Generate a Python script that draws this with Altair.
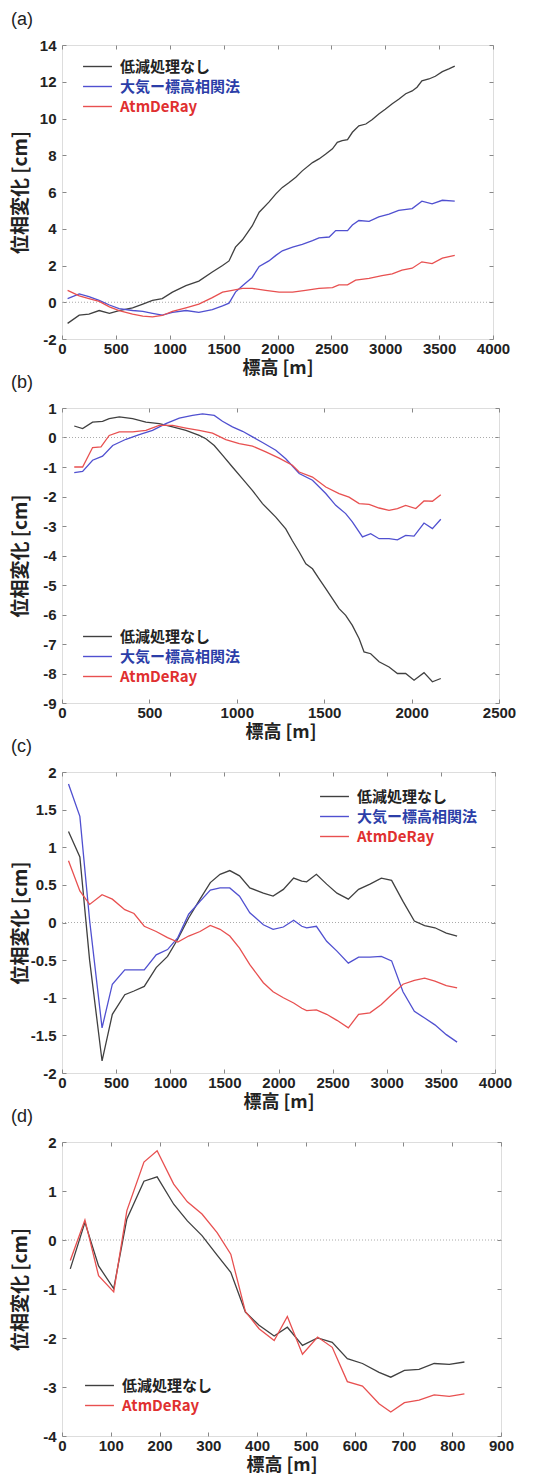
import altair as alt
import pandas as pd

# ---------------- data ----------------
NAMES = ["低減処理なし", "大気ー標高相関法", "AtmDeRay"]
LINE_COLORS = ["#404040", "#5050d0", "#e85050"]
TEXT_COLORS = ["#222222", "#2c3ea8", "#e03030"]

# panel (a)
A_BLACK_X = [52, 160, 250, 345, 440, 530, 655, 750, 840, 930, 1025, 1150, 1270, 1395, 1490, 1550, 1610, 1675, 1765, 1830,
             1920, 1985, 2045, 2105, 2170, 2230, 2325, 2385, 2445, 2510, 2555, 2600, 2650, 2695, 2755, 2820, 2880, 2940, 3000, 3065,
             3125, 3190, 3250, 3295, 3340, 3405, 3465, 3530, 3590, 3645]
A_BLACK_Y = [-1.15, -0.7, -0.65, -0.45, -0.6, -0.45, -0.3, -0.1, 0.1, 0.2, 0.55, 0.9, 1.15, 1.65, 2.0, 2.25, 3.0, 3.4, 4.15, 4.9,
             5.45, 5.9, 6.25, 6.5, 6.8, 7.15, 7.6, 7.8, 8.05, 8.35, 8.7, 8.8, 8.85, 9.25, 9.6, 9.7, 9.95, 10.25, 10.5, 10.8,
             11.05, 11.35, 11.5, 11.7, 12.05, 12.15, 12.3, 12.55, 12.7, 12.85]
A_BLUE_X = [52, 160, 250, 345, 440, 530, 655, 750, 840, 930, 1025, 1150, 1270, 1395, 1490, 1550, 1610, 1675, 1765, 1830,
            1920, 1985, 2045, 2140, 2230, 2325, 2385, 2480, 2540, 2650, 2695, 2755, 2850, 2940, 3035, 3125, 3250, 3340, 3435, 3530,
            3645]
A_BLUE_Y = [0.2, 0.45, 0.3, 0.1, -0.15, -0.35, -0.45, -0.5, -0.6, -0.7, -0.55, -0.45, -0.55, -0.4, -0.2, -0.05, 0.55, 0.9, 1.35, 1.95,
            2.25, 2.55, 2.8, 3.0, 3.15, 3.35, 3.5, 3.55, 3.9, 3.9, 4.2, 4.45, 4.4, 4.65, 4.8, 5.0, 5.1, 5.5, 5.35, 5.55,
            5.5]
A_RED_X = [52, 160, 250, 345, 440, 530, 655, 750, 840, 930, 1025, 1150, 1270, 1395, 1490, 1580, 1675, 1765, 1890, 2015,
           2140, 2260, 2385, 2510, 2570, 2650, 2725, 2850, 2970, 3065, 3155, 3250, 3340, 3435, 3530, 3645]
A_RED_Y = [0.65, 0.35, 0.2, 0.05, -0.25, -0.45, -0.65, -0.75, -0.8, -0.72, -0.5, -0.3, -0.1, 0.25, 0.55, 0.65, 0.75, 0.75, 0.65, 0.55,
           0.55, 0.65, 0.75, 0.8, 0.95, 0.95, 1.2, 1.3, 1.45, 1.55, 1.75, 1.85, 2.2, 2.1, 2.4, 2.55]

# panel (b)
B_BLACK_X = [70, 118, 175, 232, 270, 328, 404, 480, 556, 633, 709, 785, 823, 871, 918, 975, 1033, 1090, 1147, 1223,
             1280, 1318, 1357, 1395, 1433, 1471, 1509, 1547, 1585, 1623, 1661, 1700, 1728, 1766, 1814, 1871, 1919, 1966, 2014, 2071,
             2119, 2167]
B_BLACK_Y = [0.39, 0.3, 0.52, 0.55, 0.64, 0.7, 0.64, 0.52, 0.47, 0.36, 0.24, 0.07, -0.04, -0.27, -0.6, -1.0, -1.4, -1.8, -2.24, -2.7,
             -3.1, -3.5, -3.88, -4.28, -4.45, -4.79, -5.12, -5.46, -5.8, -6.03, -6.37, -6.82, -7.27, -7.33, -7.6, -7.78, -8.0, -8.0, -8.23, -7.97,
             -8.28, -8.17]
B_BLUE_X = [70, 118, 175, 232, 290, 366, 442, 518, 594, 671, 747, 804, 871, 918, 975, 1033, 1090, 1147, 1223, 1280,
            1357, 1433, 1509, 1566, 1623, 1661, 1719, 1766, 1814, 1871, 1919, 1966, 2014, 2071, 2119, 2167]
B_BLUE_Y = [-1.19, -1.15, -0.77, -0.63, -0.27, -0.06, 0.1, 0.24, 0.47, 0.66, 0.75, 0.8, 0.75, 0.55, 0.36, 0.21, 0.02, -0.17, -0.43, -0.72,
            -1.22, -1.45, -1.9, -2.3, -2.58, -2.86, -3.37, -3.26, -3.43, -3.43, -3.47, -3.32, -3.34, -2.9, -3.09, -2.77]
B_RED_X = [70, 118, 175, 223, 270, 328, 404, 480, 556, 633, 709, 785, 861, 937, 1014, 1090, 1166, 1242, 1318, 1357,
           1433, 1509, 1585, 1642, 1700, 1757, 1814, 1871, 1919, 1966, 2024, 2071, 2119, 2167]
B_RED_Y = [-1.0, -1.0, -0.34, -0.32, 0.07, 0.19, 0.19, 0.24, 0.41, 0.41, 0.32, 0.24, 0.15, -0.07, -0.21, -0.29, -0.49, -0.7, -0.94, -1.17,
           -1.34, -1.68, -1.9, -2.02, -2.24, -2.27, -2.39, -2.47, -2.41, -2.3, -2.41, -2.15, -2.16, -1.94]

# panel (c)
C_X = [60, 165, 255, 370, 465, 580, 665, 760, 870, 975, 1070, 1170, 1275, 1370, 1460, 1550, 1640, 1735, 1860, 1950,
       2045, 2140, 2215, 2260, 2350, 2445, 2540, 2645, 2740, 2845, 2950, 3045, 3150, 3255, 3350, 3445, 3550, 3650]
C_BLACK_Y = [1.21, 0.87, -0.5, -1.84, -1.22, -0.96, -0.91, -0.85, -0.6, -0.45, -0.22, 0.06, 0.31, 0.53, 0.64, 0.69, 0.62, 0.46, 0.39, 0.35,
             0.44, 0.59, 0.55, 0.54, 0.64, 0.51, 0.39, 0.31, 0.44, 0.51, 0.59, 0.56, 0.28, 0.02, -0.04, -0.07, -0.14, -0.18]
C_BLUE_Y = [1.84, 1.41, 0.03, -1.4, -0.82, -0.63, -0.63, -0.63, -0.43, -0.36, -0.2, 0.11, 0.28, 0.43, 0.46, 0.46, 0.35, 0.13, -0.03, -0.09,
            -0.06, 0.03, -0.05, -0.07, -0.05, -0.25, -0.38, -0.54, -0.46, -0.46, -0.45, -0.51, -0.92, -1.18, -1.27, -1.36, -1.49, -1.59]
C_RED_Y = [0.82, 0.42, 0.24, 0.37, 0.31, 0.17, 0.12, -0.05, -0.12, -0.2, -0.26, -0.18, -0.12, -0.04, -0.09, -0.18, -0.34, -0.56, -0.8, -0.92,
           -1.0, -1.07, -1.14, -1.17, -1.16, -1.22, -1.3, -1.4, -1.22, -1.2, -1.09, -0.96, -0.82, -0.77, -0.74, -0.78, -0.84, -0.87]

# panel (d)
D_X = [17, 47, 75, 106, 133, 168, 195, 229, 257, 287, 318, 346, 376, 404, 435, 462, 493, 524, 554, 585,
       616, 650, 674, 702, 732, 763, 794, 825]
D_BLACK_Y = [-0.59, 0.36, -0.53, -0.99, 0.43, 1.2, 1.29, 0.73, 0.39, 0.09, -0.31, -0.66, -1.47, -1.74, -1.96, -1.78, -2.15, -2.0, -2.09, -2.42,
             -2.52, -2.7, -2.8, -2.66, -2.64, -2.52, -2.54, -2.49]
D_RED_Y = [-0.42, 0.41, -0.73, -1.06, 0.6, 1.59, 1.82, 1.14, 0.78, 0.53, 0.15, -0.29, -1.46, -1.81, -2.05, -1.56, -2.33, -1.98, -2.19, -2.89,
           -2.98, -3.34, -3.51, -3.32, -3.27, -3.16, -3.19, -3.14]

X_TITLE = "標高 [m]"
Y_TITLE = "位相変化 [cm]"

CJK = "Noto Sans CJK JP"
LAT = "Liberation Sans"
FRAME = "#888888"


def frame_long(series):
    rows = []
    for name, xs, ys in series:
        for x, y in zip(xs, ys):
            rows.append({"series": name, "x": x, "y": y})
    return pd.DataFrame(rows)


def panel(tag, series, xdom, xvals, ydom, yvals, w, h, lx, ly):
    df = frame_long(series)
    names = [s[0] for s in series]
    lcols = [LINE_COLORS[NAMES.index(n)] for n in names]
    label_expr = " : ".join(
        [f"datum.label === '{NAMES[i]}' ? '{TEXT_COLORS[i]}'" for i in range(3)] + ["'#222222'"]
    )
    xs = alt.Scale(domain=xdom, nice=False, zero=False)
    ys = alt.Scale(domain=ydom, nice=False, zero=False)

    common = dict(domain=False, grid=False, ticks=True, tickSize=4, tickColor=FRAME, tickWidth=1, offset=-4)

    x_axis = alt.Axis(orient="bottom", values=xvals, labelExpr="datum.value + ''",
                      labelFont=LAT, labelFontSize=15, labelFontWeight="bold", labelColor="#222222",
                      labelPadding=2, labelOverlap=False, labelFlush=False,
                      title=X_TITLE, titleFont=CJK, titleFontSize=18, titleFontWeight="bold",
                      titleColor="#222222", titlePadding=3, **common)
    y_axis = alt.Axis(orient="left", values=yvals, labelExpr="datum.value + ''",
                      labelFont=LAT, labelFontSize=15, labelFontWeight="bold", labelColor="#222222",
                      labelPadding=6, labelOverlap=False, labelFlush=False,
                      minExtent=34, maxExtent=34,
                      title=Y_TITLE, titleFont=CJK, titleFontSize=19, titleFontWeight="bold",
                      titleColor="#222222", titlePadding=2, **common)
    top_axis = alt.Axis(orient="top", values=xvals, labels=False, title=None, minExtent=0, maxExtent=0, **common)
    right_axis = alt.Axis(orient="right", values=yvals, labels=False, title=None, minExtent=0, maxExtent=0, **common)

    zero = alt.Chart(pd.DataFrame({"z": [0]})).mark_rule(
        color="#aaaaaa", strokeDash=[1, 2], strokeWidth=1
    ).encode(y=alt.Y("z:Q", scale=ys, axis=None))

    lines = alt.Chart(df).mark_line(strokeWidth=1.3).encode(
        x=alt.X("x:Q", scale=xs, axis=x_axis),
        y=alt.Y("y:Q", scale=ys, axis=y_axis),
        color=alt.Color(
            "series:N",
            scale=alt.Scale(domain=names, range=lcols),
            sort=names,
            legend=alt.Legend(
                orient="none", legendX=lx, legendY=ly, title=None, padding=0,
                symbolType="M-1.7,0H1.7", symbolSize=289, symbolStrokeWidth=1.4,
                symbolFillColor="transparent",
                labelFont=CJK, labelFontSize=15, labelFontWeight="bold",
                labelColor={"expr": label_expr}, labelOffset=13, rowPadding=2,
                labelLimit=300,
            ),
        ),
    )

    ticks = alt.Chart(df).mark_line(opacity=0).encode(
        x=alt.X("x:Q", scale=xs, axis=top_axis),
        y=alt.Y("y:Q", scale=ys, axis=right_axis),
        detail="series:N",
    )

    return alt.layer(zero, lines, ticks).resolve_axis(x="independent", y="independent").properties(
        width=w, height=h,
        title=alt.TitleParams(text=tag, anchor="start", font=LAT, fontSize=18, fontWeight="normal",
                              color="#222222", offset=9),
    )


pa = panel("(a)", [(NAMES[0], A_BLACK_X, A_BLACK_Y), (NAMES[1], A_BLUE_X, A_BLUE_Y), (NAMES[2], A_RED_X, A_RED_Y)],
           [0, 4000], [0, 500, 1000, 1500, 2000, 2500, 3000, 3500, 4000],
           [-2, 14], [-2, 0, 2, 4, 6, 8, 10, 12, 14], 431, 294, 26, 12)
pb = panel("(b)", [(NAMES[0], B_BLACK_X, B_BLACK_Y), (NAMES[1], B_BLUE_X, B_BLUE_Y), (NAMES[2], B_RED_X, B_RED_Y)],
           [0, 2500], [0, 500, 1000, 1500, 2000, 2500],
           [-9, 1], [-9, -8, -7, -6, -5, -4, -3, -2, -1, 0, 1], 437, 295, 26, 219)
pc = panel("(c)", [(NAMES[0], C_X, C_BLACK_Y), (NAMES[1], C_X, C_BLUE_Y), (NAMES[2], C_X, C_RED_Y)],
           [0, 4000], [0, 500, 1000, 1500, 2000, 2500, 3000, 3500, 4000],
           [-2, 2], [-2, -1.5, -1, -0.5, 0, 0.5, 1, 1.5, 2], 433, 301, 263, 15)
pd_ = panel("(d)", [(NAMES[0], D_X, D_BLACK_Y), (NAMES[2], D_X, D_RED_Y)],
            [0, 900], [0, 100, 200, 300, 400, 500, 600, 700, 800, 900],
            [-4, 2], [-4, -3, -2, -1, 0, 1, 2], 439, 294, 28, 234)

chart = alt.vconcat(pa, pb, pc, pd_, spacing=-5).resolve_scale(color="independent").properties(
    padding={"left": 10, "top": 10, "right": 0, "bottom": 0}
).configure_view(stroke=FRAME, strokeWidth=1.2).configure(background="white")

chart.save("out.html", embed_options={"renderer": "svg", "actions": False})
